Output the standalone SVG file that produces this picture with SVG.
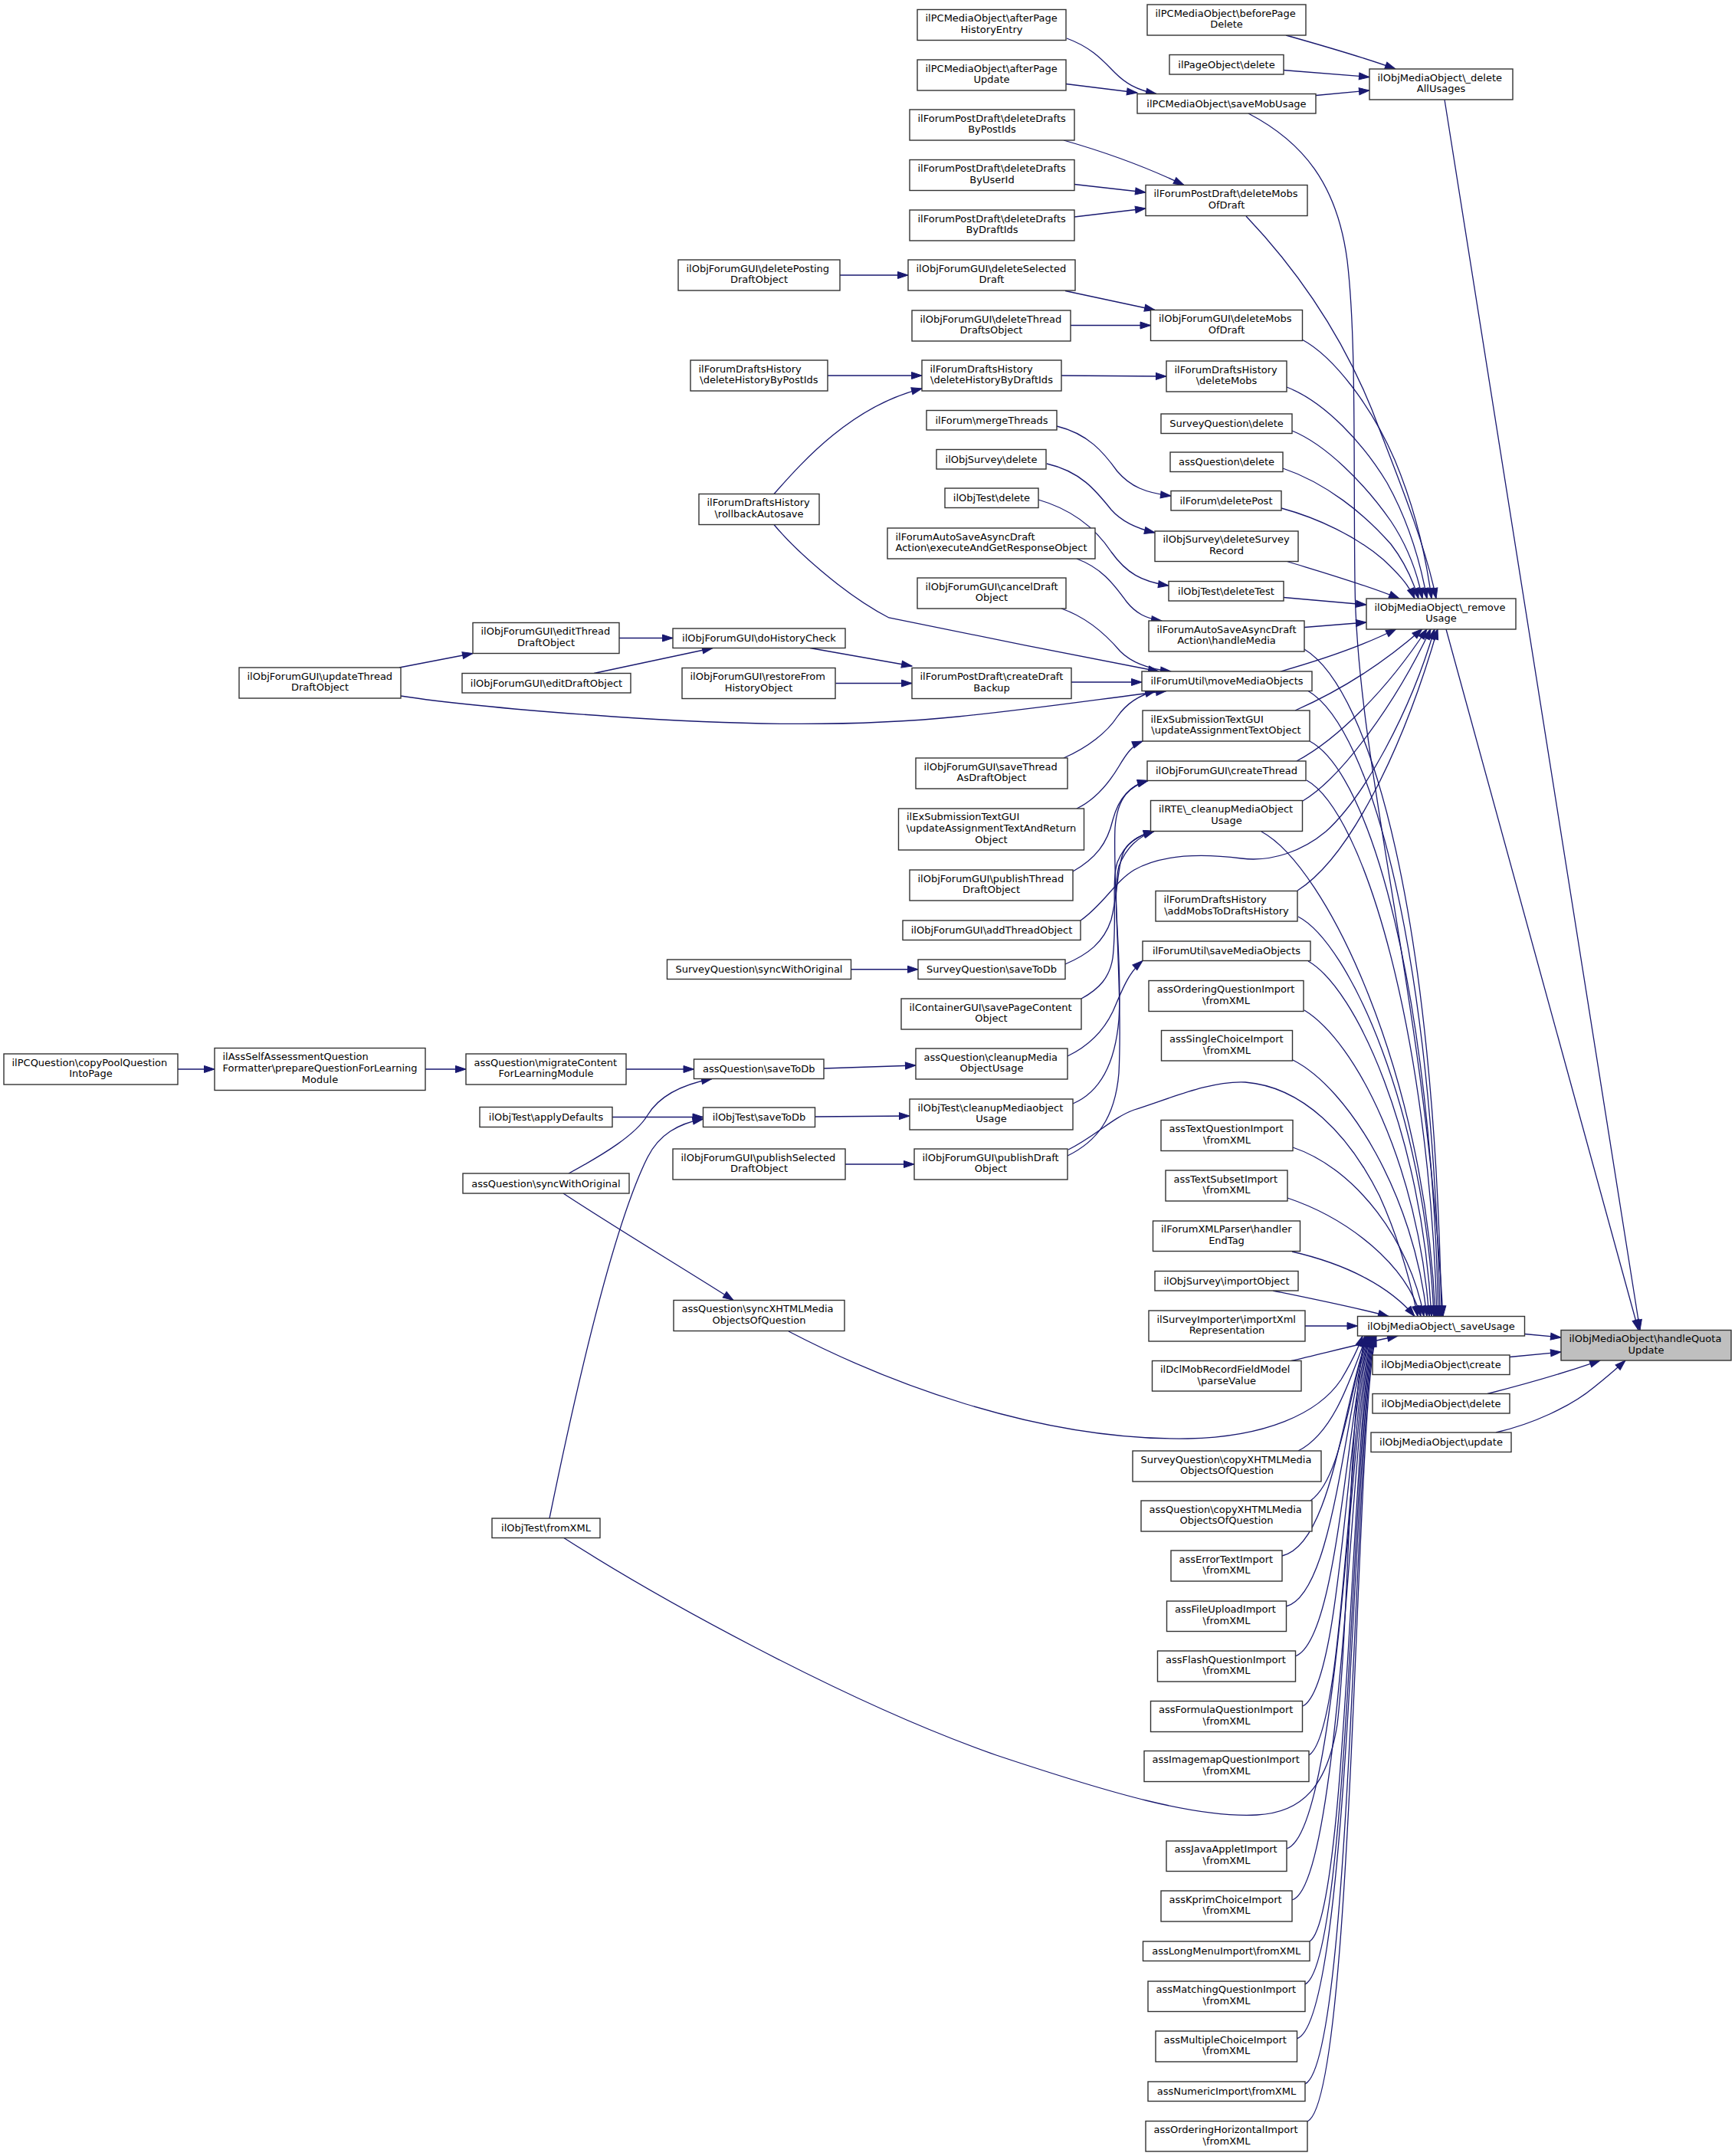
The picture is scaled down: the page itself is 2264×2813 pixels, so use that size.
<svg xmlns="http://www.w3.org/2000/svg" width="2264" height="2813" viewBox="0 0 2264 2813">
<style>
text{font-family:"DejaVu Sans",sans-serif;font-size:13px;fill:#000}
.m{text-anchor:middle}
.n rect{fill:#fff;stroke:#333;stroke-width:1.4}
.g rect{fill:#bfbfbf}
#edges path{fill:none;stroke:#191970;stroke-width:1.3;marker-end:url(#arr)}
</style>
<defs>
<marker id="arr" markerUnits="userSpaceOnUse" markerWidth="15" markerHeight="11" refX="13.5" refY="5" orient="auto" viewBox="0 0 15 10" overflow="visible"><path d="M0,0.5 L13.5,5 L0,9.5z" fill="#191970" stroke="#191970" stroke-width="1"/></marker>
</defs>
<rect width="2264" height="2813" fill="#fff"/>
<g id="edges">
<path d="M1392,50 C1425,62 1440,80 1455,95 C1468,108 1482,117 1509,122.5"/>
<path d="M1391,109.5 L1484,121"/>
<path d="M1678,46 C1710,55 1780,75 1821,90"/>
<path d="M1674.5,91.5 L1787,100.5"/>
<path d="M1717,124.5 L1787,118"/>
<path d="M1629,148 C1700,185 1745,240 1758,340 C1770,440 1766,600 1768,760 C1770,1000 1860,1300 1883,1717.5"/>
<path d="M1388,183 C1430,195 1490,215 1545,241.5"/>
<path d="M1402,240.5 L1495,251"/>
<path d="M1402,283 L1495,272"/>
<path d="M1096,359 L1185,359"/>
<path d="M1390,379.5 L1507,404.5"/>
<path d="M1397,424.5 L1501.5,424.5"/>
<path d="M1080,490 L1203,490"/>
<path d="M1385,490 L1522,491"/>
<path d="M1010,644.5 C1045,605 1110,530 1203,507"/>
<path d="M1010,684.5 C1035,715 1100,775 1160,806 C1250,825 1420,858 1512,876"/>
<path d="M1379,556 C1420,566 1440,590 1458,615 C1475,635 1495,643 1528,647"/>
<path d="M1366,605 C1410,615 1430,640 1450,665 C1465,682 1485,690 1507,695"/>
<path d="M1355,652 C1400,665 1430,690 1450,720 C1470,748 1490,759 1525,764"/>
<path d="M1405,729 C1440,742 1455,765 1470,785 C1482,800 1495,807 1516,810"/>
<path d="M1385,794 C1420,806 1445,830 1462,850 C1478,866 1500,873 1528,876"/>
<path d="M521,871 L617,852.5"/>
<path d="M523,908 C600,920 700,928 800,935 C950,945 1100,950 1250,935 C1350,925 1450,910 1522,901.5"/>
<path d="M808,832.5 L878,832.5"/>
<path d="M775,878.5 L930,845.5"/>
<path d="M1057,845.5 L1190,869"/>
<path d="M1090.5,891.5 L1190,891.5"/>
<path d="M1398,890 L1490,890"/>
<path d="M1388,989 C1420,975 1445,955 1458,935 C1472,915 1490,906 1508,901.5"/>
<path d="M1405,1055 C1430,1043 1448,1020 1460,1000 C1470,983 1478,972 1491,967"/>
<path d="M1400,1137 C1430,1120 1445,1100 1452,1070 C1460,1040 1475,1025 1498,1018.5"/>
<path d="M1410,1201 C1440,1180 1455,1150 1480,1135 C1520,1112 1580,1115 1620,1120 C1660,1125 1700,1110 1730,1085 C1780,1040 1840,930 1872,820.5"/>
<path d="M1393,1508 C1430,1490 1455,1460 1460,1400 C1465,1300 1452,1150 1455,1080 C1458,1040 1475,1025 1498,1018.5"/>
<path d="M1400,1440 C1435,1425 1455,1390 1460,1330 C1465,1250 1450,1170 1460,1130 C1470,1105 1485,1092 1506,1084.5"/>
<path d="M1411,1303 C1435,1290 1448,1275 1452,1250 C1458,1200 1450,1150 1458,1125 C1468,1100 1485,1090 1506,1084.5"/>
<path d="M1390,1258 C1420,1245 1440,1230 1450,1200 C1460,1160 1458,1120 1470,1105 C1480,1093 1492,1088 1506,1084.5"/>
<path d="M1393,1378 C1420,1365 1440,1345 1452,1320 C1465,1290 1472,1270 1491,1253.5"/>
<path d="M1075,1394 L1195,1390"/>
<path d="M1063.5,1457 L1187,1456"/>
<path d="M1103,1519 L1193,1519"/>
<path d="M1110.5,1264.75 L1198,1264.75"/>
<path d="M232,1395 L280,1395"/>
<path d="M555,1395 L608,1395"/>
<path d="M817,1395 L905.5,1395"/>
<path d="M799,1457.5 L917.5,1457.5"/>
<path d="M742,1531 C790,1505 830,1480 845,1455 C860,1430 890,1415 929,1407.5"/>
<path d="M735,1557 C800,1600 900,1660 957,1696.5"/>
<path d="M717,1981 C750,1820 800,1600 845,1510 C860,1480 885,1466 917.5,1460"/>
<path d="M1394,1500 C1430,1482 1452,1458 1480,1448 C1530,1432 1580,1410 1625,1412 C1700,1418 1760,1480 1800,1560 C1825,1615 1840,1670 1850,1717.5"/>
<path d="M1029,1737 C1150,1800 1350,1880 1550,1877 C1650,1875 1720,1845 1750,1800 C1762,1780 1772,1760 1778,1743"/>
<path d="M735,2006 C850,2080 1100,2220 1300,2290 C1450,2340 1560,2372 1640,2368 C1700,2365 1732,2330 1745,2250 C1760,2120 1760,1850 1781,1743"/>
<path d="M1626,282 C1700,360 1760,450 1800,560 C1835,650 1862,720 1874,781"/>
<path d="M1699,443 C1740,465 1790,530 1820,600 C1845,660 1860,720 1868,781"/>
<path d="M1679,505 C1730,525 1780,580 1810,630 C1835,675 1852,725 1862,781"/>
<path d="M1686,562 C1730,580 1780,630 1815,680 C1835,710 1849,745 1856,781"/>
<path d="M1674,611 C1730,630 1780,670 1815,710 C1832,732 1843,755 1851,781"/>
<path d="M1672,663 C1720,676 1770,700 1805,730 C1822,746 1838,762 1846,781"/>
<path d="M1678,732 C1720,745 1780,762 1826,781"/>
<path d="M1675,779.5 L1783,789"/>
<path d="M1702,818.5 L1783,812"/>
<path d="M1671,876 C1720,862 1780,842 1822,820.5"/>
<path d="M1690,927 C1740,905 1800,870 1856,820.5"/>
<path d="M1692,993 C1745,965 1810,900 1862,820.5"/>
<path d="M1700,1045 C1750,1015 1820,920 1867,820.5"/>
<path d="M1693,1162 C1760,1120 1830,980 1876,820.5"/>
<path d="M1661,1684 C1710,1694 1770,1706 1812,1717.5"/>
<path d="M1686,1633 C1760,1650 1815,1680 1846,1717.5"/>
<path d="M1680,1563 C1760,1590 1835,1650 1854,1717.5"/>
<path d="M1687,1497 C1770,1525 1840,1620 1858,1717.5"/>
<path d="M1687,1383 C1760,1420 1845,1560 1862,1717.5"/>
<path d="M1702,1318 C1770,1360 1850,1520 1865,1717.5"/>
<path d="M1707,1254 C1770,1290 1855,1480 1868,1717.5"/>
<path d="M1694,1196 C1760,1230 1860,1450 1871,1717.5"/>
<path d="M1646,1085 C1730,1130 1860,1400 1873,1717.5"/>
<path d="M1705,1018 C1780,1060 1865,1350 1875,1717.5"/>
<path d="M1709,967 C1790,1010 1868,1300 1877,1717.5"/>
<path d="M1707,901.5 C1790,950 1870,1250 1879,1717.5"/>
<path d="M1702,847 C1790,900 1872,1200 1881,1717.5"/>
<path d="M1703,1730 L1771.5,1730"/>
<path d="M1685,1775.5 C1730,1765 1780,1752 1824,1743"/>
<path d="M1694,1893 C1740,1870 1762,1800 1783,1743"/>
<path d="M1710,1958 C1750,1930 1760,1820 1784,1743"/>
<path d="M1673,2030 C1738,2015 1752,1830 1785,1743"/>
<path d="M1678,2096 C1742,2080 1755,1830 1786,1743"/>
<path d="M1690,2161 C1748,2140 1757,1830 1787,1743"/>
<path d="M1700,2226 C1752,2200 1758,1830 1788,1743"/>
<path d="M1708,2290 C1756,2260 1759,1830 1789,1743"/>
<path d="M1679,2412 C1748,2390 1762,1830 1790,1743"/>
<path d="M1686,2479 C1752,2460 1763,1830 1791,1743"/>
<path d="M1709,2533 C1760,2500 1764,1830 1792,1743"/>
<path d="M1703,2589 C1762,2560 1765,1830 1793,1743"/>
<path d="M1692,2660 C1764,2640 1766,1830 1794,1743"/>
<path d="M1703,2719 C1766,2690 1767,1830 1795,1743"/>
<path d="M1706,2768 C1768,2740 1768,1830 1796,1743"/>
<path d="M1885,130 L2140,1735.5"/>
<path d="M1887,821 L2138,1735.5"/>
<path d="M1989.5,1740.5 L2037,1745"/>
<path d="M1970,1770.5 L2037,1764"/>
<path d="M1941,1818.5 C1990,1806 2040,1792 2088,1775"/>
<path d="M1952,1869 C2000,1858 2050,1835 2080,1810 C2095,1798 2108,1787 2121,1775"/>
</g>
<g id="n1" class="n"><rect x="1197" y="12.5" width="194" height="40"/><text x="1207.5" y="28.1">ilPCMediaObject\afterPage</text><text class="m" x="1294" y="42.9">HistoryEntry</text></g>
<g id="n2" class="n"><rect x="1197" y="78" width="194" height="40"/><text x="1207.5" y="93.6">ilPCMediaObject\afterPage</text><text class="m" x="1294" y="108.4">Update</text></g>
<g id="n3" class="n"><rect x="1497" y="6" width="207" height="40"/><text x="1507.5" y="21.6">ilPCMediaObject\beforePage</text><text class="m" x="1600.5" y="36.4">Delete</text></g>
<g id="n4" class="n"><rect x="1526" y="71.5" width="149" height="25.5"/><text class="m" x="1600.5" y="88.75">ilPageObject\delete</text></g>
<g id="n5" class="n"><rect x="1484" y="122.5" width="233" height="25.5"/><text class="m" x="1600.5" y="139.75">ilPCMediaObject\saveMobUsage</text></g>
<g id="n6" class="n"><rect x="1787" y="90" width="187" height="40"/><text x="1797.5" y="105.6">ilObjMediaObject\_delete</text><text class="m" x="1880.5" y="120.4">AllUsages</text></g>
<g id="n7" class="n"><rect x="1187" y="143" width="215" height="40"/><text x="1197.5" y="158.6">ilForumPostDraft\deleteDrafts</text><text class="m" x="1294.5" y="173.4">ByPostIds</text></g>
<g id="n8" class="n"><rect x="1187" y="208.5" width="215" height="40"/><text x="1197.5" y="224.1">ilForumPostDraft\deleteDrafts</text><text class="m" x="1294.5" y="238.9">ByUserId</text></g>
<g id="n9" class="n"><rect x="1187" y="274" width="215" height="40"/><text x="1197.5" y="289.6">ilForumPostDraft\deleteDrafts</text><text class="m" x="1294.5" y="304.4">ByDraftIds</text></g>
<g id="n10" class="n"><rect x="1495" y="241.5" width="211" height="40"/><text x="1505.5" y="257.1">ilForumPostDraft\deleteMobs</text><text class="m" x="1600.5" y="271.9">OfDraft</text></g>
<g id="n11" class="n"><rect x="885" y="339" width="211" height="40"/><text x="895.5" y="354.6">ilObjForumGUI\deletePosting</text><text class="m" x="990.5" y="369.4">DraftObject</text></g>
<g id="n12" class="n"><rect x="1185" y="339" width="218" height="40"/><text x="1195.5" y="354.6">ilObjForumGUI\deleteSelected</text><text class="m" x="1294" y="369.4">Draft</text></g>
<g id="n13" class="n"><rect x="1190" y="405" width="207" height="40"/><text x="1200.5" y="420.6">ilObjForumGUI\deleteThread</text><text class="m" x="1293.5" y="435.4">DraftsObject</text></g>
<g id="n14" class="n"><rect x="1501.5" y="404.5" width="198" height="40"/><text x="1512" y="420.1">ilObjForumGUI\deleteMobs</text><text class="m" x="1600.5" y="434.9">OfDraft</text></g>
<g id="n15" class="n"><rect x="901" y="470" width="179" height="40"/><text x="911.5" y="485.6">ilForumDraftsHistory</text><text class="m" x="990.5" y="500.4">\deleteHistoryByPostIds</text></g>
<g id="n16" class="n"><rect x="1203" y="470" width="182" height="40"/><text x="1213.5" y="485.6">ilForumDraftsHistory</text><text class="m" x="1294" y="500.4">\deleteHistoryByDraftIds</text></g>
<g id="n17" class="n"><rect x="1522" y="471" width="157" height="40"/><text x="1532.5" y="486.6">ilForumDraftsHistory</text><text class="m" x="1600.5" y="501.4">\deleteMobs</text></g>
<g id="n18" class="n"><rect x="1209" y="535.5" width="170" height="25.5"/><text class="m" x="1294" y="552.75">ilForum\mergeThreads</text></g>
<g id="n19" class="n"><rect x="1515" y="540" width="171" height="25.5"/><text class="m" x="1600.5" y="557.25">SurveyQuestion\delete</text></g>
<g id="n20" class="n"><rect x="1222" y="586.5" width="143" height="25.5"/><text class="m" x="1293.5" y="603.75">ilObjSurvey\delete</text></g>
<g id="n21" class="n"><rect x="1527" y="590" width="147" height="25.5"/><text class="m" x="1600.5" y="607.25">assQuestion\delete</text></g>
<g id="n22" class="n"><rect x="1233" y="637" width="122" height="25.5"/><text class="m" x="1294" y="654.25">ilObjTest\delete</text></g>
<g id="n23" class="n"><rect x="1528" y="640.5" width="144" height="25.5"/><text class="m" x="1600" y="657.75">ilForum\deletePost</text></g>
<g id="n24" class="n"><rect x="912" y="644.5" width="157" height="40"/><text x="922.5" y="660.1">ilForumDraftsHistory</text><text class="m" x="990.5" y="674.9">\rollbackAutosave</text></g>
<g id="n25" class="n"><rect x="1158" y="689" width="271" height="40"/><text x="1168.5" y="704.6">ilForumAutoSaveAsyncDraft</text><text class="m" x="1293.5" y="719.4">Action\executeAndGetResponseObject</text></g>
<g id="n26" class="n"><rect x="1507" y="693" width="187" height="39.5"/><text x="1517.5" y="708.35">ilObjSurvey\deleteSurvey</text><text class="m" x="1600.5" y="723.15">Record</text></g>
<g id="n27" class="n"><rect x="1525" y="758.5" width="150" height="25.5"/><text class="m" x="1600" y="775.75">ilObjTest\deleteTest</text></g>
<g id="n28" class="n"><rect x="1783" y="781" width="195" height="40"/><text x="1793.5" y="796.6">ilObjMediaObject\_remove</text><text class="m" x="1880.5" y="811.4">Usage</text></g>
<g id="n29" class="n"><rect x="1197" y="754" width="194" height="40"/><text x="1207.5" y="769.6">ilObjForumGUI\cancelDraft</text><text class="m" x="1294" y="784.4">Object</text></g>
<g id="n30" class="n"><rect x="1499" y="810" width="203" height="40"/><text x="1509.5" y="825.6">ilForumAutoSaveAsyncDraft</text><text class="m" x="1600.5" y="840.4">Action\handleMedia</text></g>
<g id="n31" class="n"><rect x="617" y="812.5" width="191" height="40"/><text x="627.5" y="828.1">ilObjForumGUI\editThread</text><text class="m" x="712.5" y="842.9">DraftObject</text></g>
<g id="n32" class="n"><rect x="878" y="820" width="225" height="25.5"/><text class="m" x="990.5" y="837.25">ilObjForumGUI\doHistoryCheck</text></g>
<g id="n33" class="n"><rect x="1490" y="876" width="222" height="25.5"/><text class="m" x="1601" y="893.25">ilForumUtil\moveMediaObjects</text></g>
<g id="n34" class="n"><rect x="312" y="871" width="211" height="40"/><text x="322.5" y="886.6">ilObjForumGUI\updateThread</text><text class="m" x="417.5" y="901.4">DraftObject</text></g>
<g id="n35" class="n"><rect x="603" y="878.5" width="220" height="25.5"/><text class="m" x="713" y="895.75">ilObjForumGUI\editDraftObject</text></g>
<g id="n36" class="n"><rect x="890" y="871.5" width="200" height="40"/><text x="900.5" y="887.1">ilObjForumGUI\restoreFrom</text><text class="m" x="990" y="901.9">HistoryObject</text></g>
<g id="n37" class="n"><rect x="1190" y="871.5" width="208" height="40"/><text x="1200.5" y="887.1">ilForumPostDraft\createDraft</text><text class="m" x="1294" y="901.9">Backup</text></g>
<g id="n38" class="n"><rect x="1491" y="927" width="218" height="40"/><text x="1501.5" y="942.6">ilExSubmissionTextGUI</text><text class="m" x="1600" y="957.4">\updateAssignmentTextObject</text></g>
<g id="n39" class="n"><rect x="1195" y="989" width="198" height="40"/><text x="1205.5" y="1004.6">ilObjForumGUI\saveThread</text><text class="m" x="1294" y="1019.4">AsDraftObject</text></g>
<g id="n40" class="n"><rect x="1497" y="993" width="207" height="25.5"/><text class="m" x="1600.5" y="1010.25">ilObjForumGUI\createThread</text></g>
<g id="n41" class="n"><rect x="1172.5" y="1055" width="242" height="54"/><text x="1183" y="1070.2">ilExSubmissionTextGUI</text><text class="m" x="1293.5" y="1085">\updateAssignmentTextAndReturn</text><text class="m" x="1293.5" y="1099.8">Object</text></g>
<g id="n42" class="n"><rect x="1501.5" y="1044.5" width="198" height="40"/><text x="1512" y="1060.1">ilRTE\_cleanupMediaObject</text><text class="m" x="1600.5" y="1074.9">Usage</text></g>
<g id="n43" class="n"><rect x="1187" y="1135" width="213" height="40"/><text x="1197.5" y="1150.6">ilObjForumGUI\publishThread</text><text class="m" x="1293.5" y="1165.4">DraftObject</text></g>
<g id="n44" class="n"><rect x="1508" y="1162.5" width="185" height="39.5"/><text x="1518.5" y="1177.85">ilForumDraftsHistory</text><text class="m" x="1600.5" y="1192.65">\addMobsToDraftsHistory</text></g>
<g id="n45" class="n"><rect x="1178" y="1201" width="232" height="25.5"/><text class="m" x="1294" y="1218.25">ilObjForumGUI\addThreadObject</text></g>
<g id="n46" class="n"><rect x="1491" y="1228" width="219" height="25.5"/><text class="m" x="1600.5" y="1245.25">ilForumUtil\saveMediaObjects</text></g>
<g id="n47" class="n"><rect x="870.5" y="1252" width="240" height="25.5"/><text class="m" x="990.5" y="1269.25">SurveyQuestion\syncWithOriginal</text></g>
<g id="n48" class="n"><rect x="1198" y="1252" width="192" height="25.5"/><text class="m" x="1294" y="1269.25">SurveyQuestion\saveToDb</text></g>
<g id="n49" class="n"><rect x="1499" y="1279.5" width="202" height="40"/><text x="1509.5" y="1295.1">assOrderingQuestionImport</text><text class="m" x="1600" y="1309.9">\fromXML</text></g>
<g id="n50" class="n"><rect x="1176" y="1303" width="235" height="40"/><text x="1186.5" y="1318.6">ilContainerGUI\savePageContent</text><text class="m" x="1293.5" y="1333.4">Object</text></g>
<g id="n51" class="n"><rect x="1515.5" y="1344.5" width="171" height="39.5"/><text x="1526" y="1359.85">assSingleChoiceImport</text><text class="m" x="1601" y="1374.65">\fromXML</text></g>
<g id="n52" class="n"><rect x="5" y="1375" width="227" height="40"/><text x="15.5" y="1390.6">ilPCQuestion\copyPoolQuestion</text><text class="m" x="118.5" y="1405.4">IntoPage</text></g>
<g id="n53" class="n"><rect x="280" y="1367.5" width="275" height="55"/><text x="290.5" y="1383.2">ilAssSelfAssessmentQuestion</text><text class="m" x="417.5" y="1398">Formatter\prepareQuestionForLearning</text><text class="m" x="417.5" y="1412.8">Module</text></g>
<g id="n54" class="n"><rect x="608" y="1375" width="209" height="40"/><text x="618.5" y="1390.6">assQuestion\migrateContent</text><text class="m" x="712.5" y="1405.4">ForLearningModule</text></g>
<g id="n55" class="n"><rect x="905.5" y="1382" width="169.5" height="25.5"/><text class="m" x="990.25" y="1399.25">assQuestion\saveToDb</text></g>
<g id="n56" class="n"><rect x="1195" y="1368" width="198" height="40"/><text x="1205.5" y="1383.6">assQuestion\cleanupMedia</text><text class="m" x="1294" y="1398.4">ObjectUsage</text></g>
<g id="n57" class="n"><rect x="626" y="1444.5" width="173" height="26"/><text class="m" x="712.5" y="1462">ilObjTest\applyDefaults</text></g>
<g id="n58" class="n"><rect x="917.5" y="1445" width="146" height="25.5"/><text class="m" x="990.5" y="1462.25">ilObjTest\saveToDb</text></g>
<g id="n59" class="n"><rect x="1187" y="1434" width="213" height="40"/><text x="1197.5" y="1449.6">ilObjTest\cleanupMediaobject</text><text class="m" x="1293.5" y="1464.4">Usage</text></g>
<g id="n60" class="n"><rect x="1515" y="1461.5" width="172" height="40"/><text x="1525.5" y="1477.1">assTextQuestionImport</text><text class="m" x="1601" y="1491.9">\fromXML</text></g>
<g id="n61" class="n"><rect x="878" y="1499" width="225" height="40"/><text x="888.5" y="1514.6">ilObjForumGUI\publishSelected</text><text class="m" x="990.5" y="1529.4">DraftObject</text></g>
<g id="n62" class="n"><rect x="1193" y="1499" width="200" height="40"/><text x="1203.5" y="1514.6">ilObjForumGUI\publishDraft</text><text class="m" x="1293" y="1529.4">Object</text></g>
<g id="n63" class="n"><rect x="604" y="1531" width="217" height="26"/><text class="m" x="712.5" y="1548.5">assQuestion\syncWithOriginal</text></g>
<g id="n64" class="n"><rect x="1521" y="1527" width="159" height="40"/><text x="1531.5" y="1542.6">assTextSubsetImport</text><text class="m" x="1600.5" y="1557.4">\fromXML</text></g>
<g id="n65" class="n"><rect x="1504.5" y="1593" width="192" height="39.5"/><text x="1515" y="1608.35">ilForumXMLParser\handler</text><text class="m" x="1600.5" y="1623.15">EndTag</text></g>
<g id="n66" class="n"><rect x="1507" y="1658.5" width="187" height="25.5"/><text class="m" x="1600.5" y="1675.75">ilObjSurvey\importObject</text></g>
<g id="n67" class="n"><rect x="879" y="1696.5" width="223" height="40"/><text x="889.5" y="1712.1">assQuestion\syncXHTMLMedia</text><text class="m" x="990.5" y="1726.9">ObjectsOfQuestion</text></g>
<g id="n68" class="n"><rect x="1499" y="1710" width="204" height="40"/><text x="1509.5" y="1725.6">ilSurveyImporter\importXml</text><text class="m" x="1601" y="1740.4">Representation</text></g>
<g id="n69" class="n"><rect x="1771.5" y="1717.5" width="218" height="25.5"/><text class="m" x="1880.5" y="1734.75">ilObjMediaObject\_saveUsage</text></g>
<g id="n70" class="n g"><rect x="2037" y="1735.5" width="222" height="39.5"/><text x="2047.5" y="1750.85">ilObjMediaObject\handleQuota</text><text class="m" x="2148" y="1765.65">Update</text></g>
<g id="n71" class="n"><rect x="1791" y="1768" width="179" height="25.5"/><text class="m" x="1880.5" y="1785.25">ilObjMediaObject\create</text></g>
<g id="n72" class="n"><rect x="1503.5" y="1775.5" width="194.5" height="39.5"/><text x="1514" y="1790.85">ilDclMobRecordFieldModel</text><text class="m" x="1600.75" y="1805.65">\parseValue</text></g>
<g id="n73" class="n"><rect x="1791" y="1818.5" width="179" height="25.5"/><text class="m" x="1880.5" y="1835.75">ilObjMediaObject\delete</text></g>
<g id="n74" class="n"><rect x="1789" y="1869" width="183" height="25.5"/><text class="m" x="1880.5" y="1886.25">ilObjMediaObject\update</text></g>
<g id="n75" class="n"><rect x="1478" y="1893" width="246" height="40"/><text x="1488.5" y="1908.6">SurveyQuestion\copyXHTMLMedia</text><text class="m" x="1601" y="1923.4">ObjectsOfQuestion</text></g>
<g id="n76" class="n"><rect x="1489" y="1958" width="223" height="40"/><text x="1499.5" y="1973.6">assQuestion\copyXHTMLMedia</text><text class="m" x="1600.5" y="1988.4">ObjectsOfQuestion</text></g>
<g id="n77" class="n"><rect x="642" y="1981" width="141" height="25.5"/><text class="m" x="712.5" y="1998.25">ilObjTest\fromXML</text></g>
<g id="n78" class="n"><rect x="1528" y="2023" width="145" height="40"/><text x="1538.5" y="2038.6">assErrorTextImport</text><text class="m" x="1600.5" y="2053.4">\fromXML</text></g>
<g id="n79" class="n"><rect x="1522.5" y="2089" width="156" height="39.5"/><text x="1533" y="2104.35">assFileUploadImport</text><text class="m" x="1600.5" y="2119.15">\fromXML</text></g>
<g id="n80" class="n"><rect x="1510.5" y="2154" width="180" height="40"/><text x="1521" y="2169.6">assFlashQuestionImport</text><text class="m" x="1600.5" y="2184.4">\fromXML</text></g>
<g id="n81" class="n"><rect x="1501.5" y="2219.5" width="198" height="40"/><text x="1512" y="2235.1">assFormulaQuestionImport</text><text class="m" x="1600.5" y="2249.9">\fromXML</text></g>
<g id="n82" class="n"><rect x="1493" y="2284.5" width="215" height="40"/><text x="1503.5" y="2300.1">assImagemapQuestionImport</text><text class="m" x="1600.5" y="2314.9">\fromXML</text></g>
<g id="n83" class="n"><rect x="1522" y="2402" width="157" height="39.5"/><text x="1532.5" y="2417.35">assJavaAppletImport</text><text class="m" x="1600.5" y="2432.15">\fromXML</text></g>
<g id="n84" class="n"><rect x="1515" y="2467" width="171" height="40"/><text x="1525.5" y="2482.6">assKprimChoiceImport</text><text class="m" x="1600.5" y="2497.4">\fromXML</text></g>
<g id="n85" class="n"><rect x="1491.5" y="2533" width="217.5" height="25.5"/><text class="m" x="1600.25" y="2550.25">assLongMenuImport\fromXML</text></g>
<g id="n86" class="n"><rect x="1498" y="2585" width="205" height="39.5"/><text x="1508.5" y="2600.35">assMatchingQuestionImport</text><text class="m" x="1600.5" y="2615.15">\fromXML</text></g>
<g id="n87" class="n"><rect x="1508" y="2650" width="184.5" height="40"/><text x="1518.5" y="2665.6">assMultipleChoiceImport</text><text class="m" x="1600.25" y="2680.4">\fromXML</text></g>
<g id="n88" class="n"><rect x="1498" y="2716" width="205" height="25.5"/><text class="m" x="1600.5" y="2733.25">assNumericImport\fromXML</text></g>
<g id="n89" class="n"><rect x="1495" y="2767.5" width="211" height="39.5"/><text x="1505.5" y="2782.85">assOrderingHorizontalImport</text><text class="m" x="1600.5" y="2797.65">\fromXML</text></g>
</svg>
